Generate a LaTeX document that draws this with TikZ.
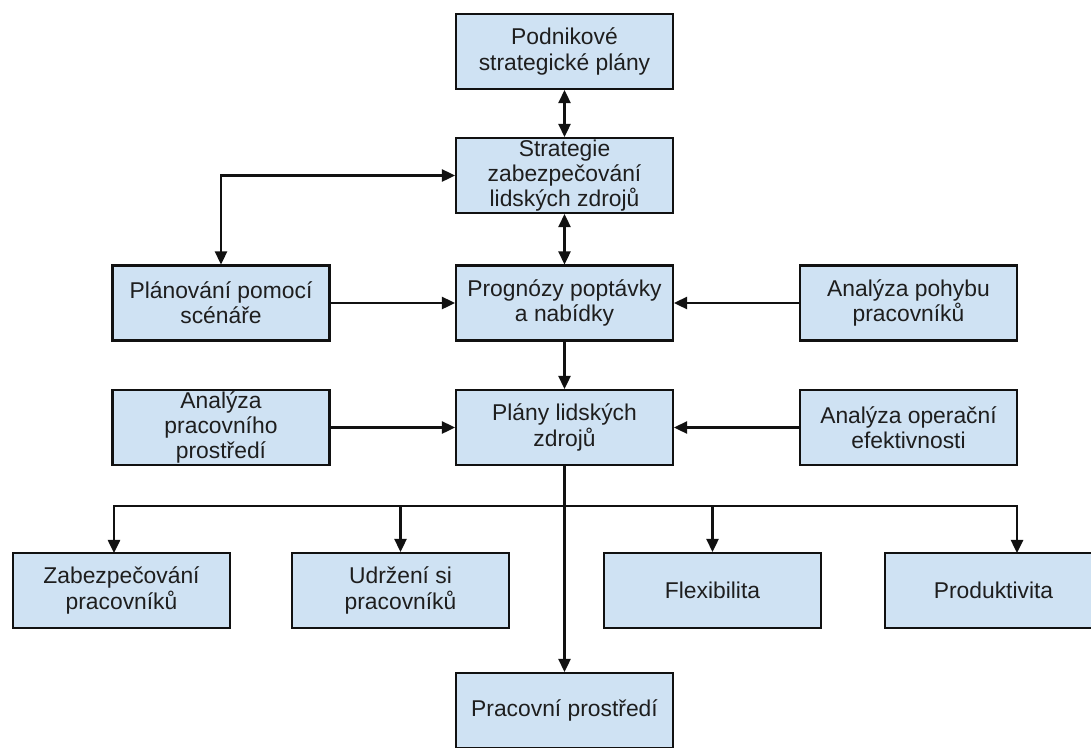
\documentclass[tikz,border=0pt]{standalone}
\usepackage{fontspec}
\setmainfont{Liberation Sans}
\usetikzlibrary{arrows.meta,positioning}
\definecolor{hrInk} {HTML}{1E1E1E}
\definecolor{hrFill}{HTML}{CFE2F3}
\definecolor{hrLine}{HTML}{111111}

\begin{document}
\begin{tikzpicture}[x=0.02cm,y=-0.02cm,
    hrbox/.style={draw=hrLine,fill=hrFill,line width=1.2pt,
      minimum width=4.34cm,minimum height=1.5cm,inner sep=0.5pt,align=center,
      font=\fontsize{13}{14.3}\selectfont,text=hrInk},
    hrarrow/.style={-{Triangle[length=7.5pt,width=7pt]},line width=1.2pt,draw=hrLine},
    hrboth/.style={{Triangle[length=7.5pt,width=7pt]}-{Triangle[length=7.5pt,width=7pt]},
      line width=1.2pt,draw=hrLine}]
  \useasboundingbox (0,0) rectangle (1091,747);
  \clip (0,0) rectangle (1091,747);

  % center column
  \node[hrbox] (podnik) at (564.5,51.5)  {Podnikové\\strategické plány};
  \node[hrbox] (strat)  at (564.5,175.5) {Strategie\\zabezpečování\\lidských zdrojů};
  \node[hrbox] (prog)   at (564.5,303)   {Prognózy poptávky\\a nabídky};
  \node[hrbox] (lidske) at (564.5,427.5) {Plány lidských\\zdrojů};
  \node[hrbox] (prac)   at (564.5,710.5) {Pracovní prostředí};

  % side columns
  \node[hrbox] (scen)   at (221,303)     {Plánování pomocí\\scénáře};
  \node[hrbox] (pohyb)  at (908.5,303)   {Analýza pohybu\\pracovníků};
  \node[hrbox] (prostr) at (221,427.5)   {Analýza\\pracovního\\prostředí};
  \node[hrbox] (efekt)  at (908.5,427.5) {Analýza operační\\efektivnosti};

  % bottom row
  \node[hrbox] (zabez)  at (121.5,590.5) {Zabezpečování\\pracovníků};
  \node[hrbox] (udrz)   at (400.5,590.5) {Udržení si\\pracovníků};
  \node[hrbox] (flex)   at (712.5,590.5) {Flexibilita};
  \node[hrbox] (prod)   at (993.5,590.5) {Produktivita};

  \coordinate (rozv)    at (564.5,506);
  \coordinate (zabezin) at (114,553);
  \coordinate (prodin)  at (1017,553);

  % connectors
  \draw[hrboth] (podnik) -- (strat);
  \draw[hrboth] (strat) -- (prog);
  \draw[hrboth] (strat.west) -| (scen);
  \draw[hrarrow] (scen) -- (prog);
  \draw[hrarrow] (pohyb) -- (prog);
  \draw[hrarrow] (prog) -- (lidske);
  \draw[hrarrow] (prostr) -- (lidske);
  \draw[hrarrow] (efekt) -- (lidske);
  \draw[hrarrow] (lidske) -- (prac);
  \foreach \n in {zabezin,udrz,flex,prodin}
    \draw[hrarrow] (rozv) -| (\n);
\end{tikzpicture}
\end{document}
